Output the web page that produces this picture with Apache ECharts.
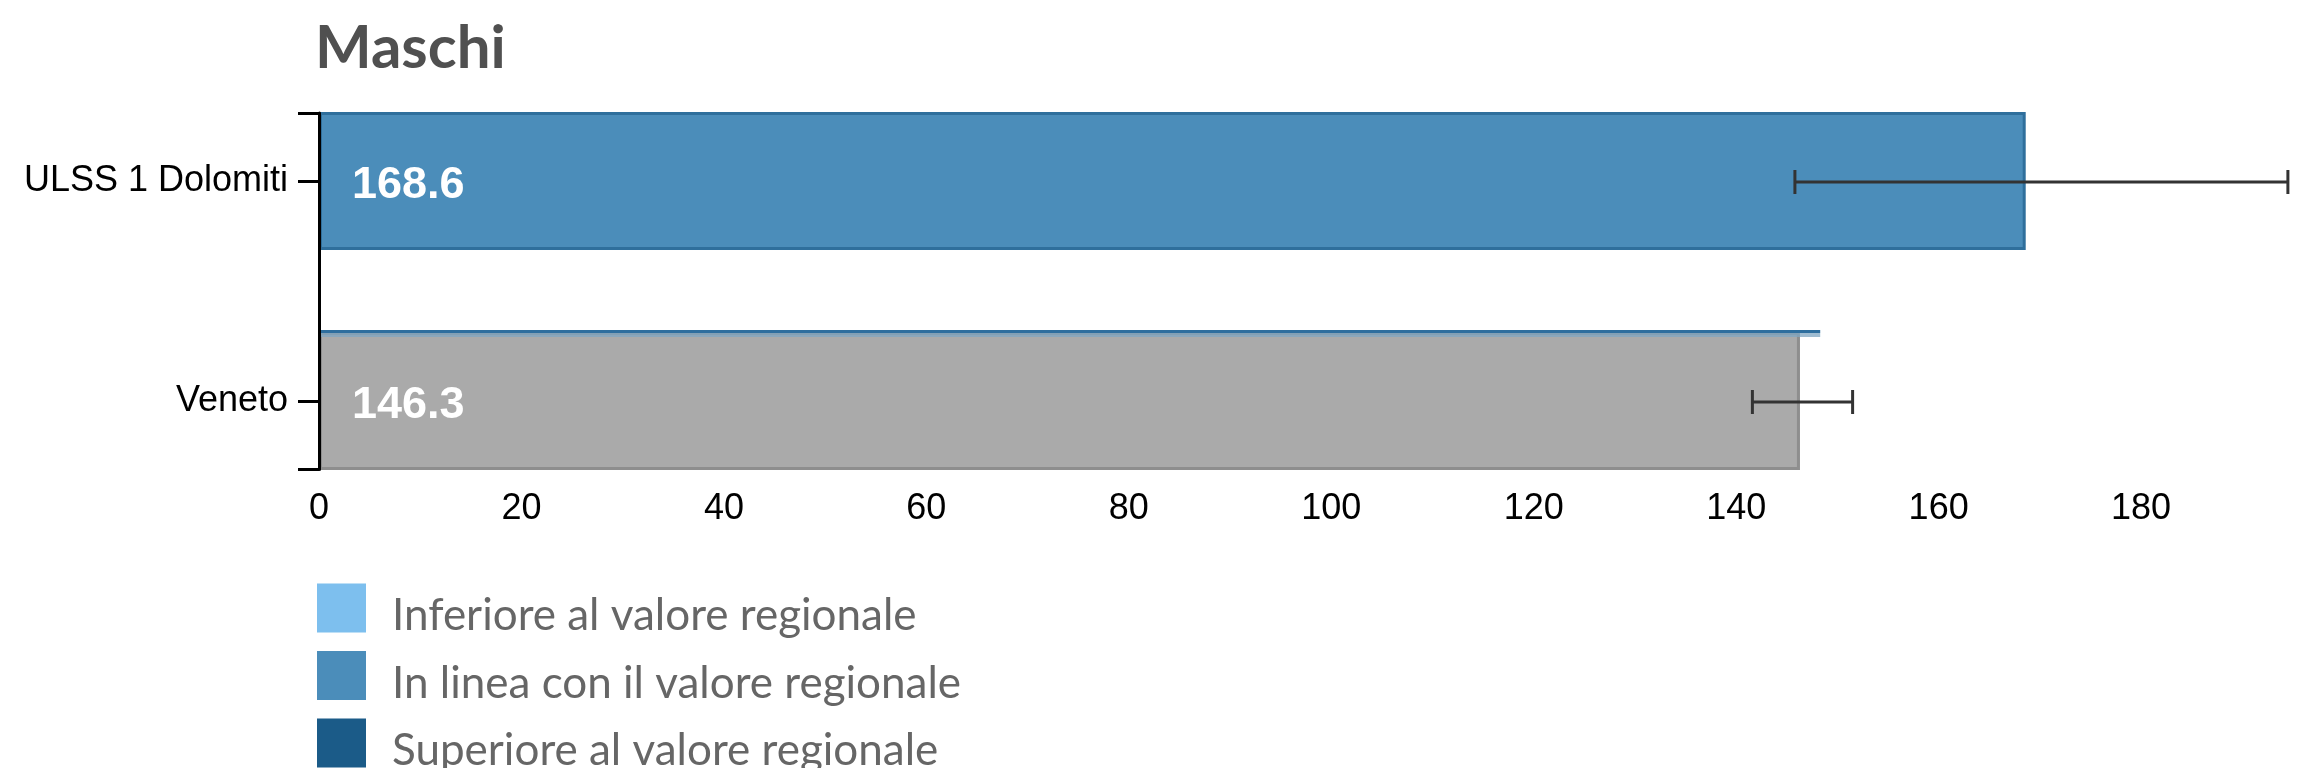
<!DOCTYPE html>
<html><head><meta charset="utf-8">
<script src="https://cdn.jsdelivr.net/npm/echarts@6/dist/echarts.min.js"></script>
<style>html,body{margin:0;padding:0;background:#fff}#c{width:2297px;height:768px}</style>
</head><body><div id="c"></div>
<script>
// ---- data ----
const titleText = 'Maschi';
const categories = ['ULSS 1 Dolomiti', 'Veneto'];
const rates = [168.6, 146.3];
const ciLower = [145.8, 141.6];
const ciUpper = [194.5, 151.5];
const rateClass = ['In linea con il valore regionale', 'Veneto'];
const overlayValues = ['-', 148.3];
const legendNames = ['Inferiore al valore regionale', 'In linea con il valore regionale', 'Superiore al valore regionale'];
const legendColors = ['#7dbfee', '#4b8dba', '#1b5b88'];
const legendBorders = ['#5c9fcf', '#2f6f9c', '#124368'];
const xMin = 0, xMax = 195.4, xStep = 20;

// ---- chart ----
const BAR_W = 138;
const chart = echarts.init(document.getElementById('c'));
const labelCfg = {
  show: true, position: 'insideLeft', distance: 33, offset: [0, 5],
  formatter: p => Number(p.value).toFixed(1),
  color: '#fff', fontSize: 45, fontWeight: 'bold', fontFamily: 'Liberation Sans'
};
const series = legendNames.map((name, k) => ({
  name, type: 'bar', stack: 'r', xAxisIndex: 0, yAxisIndex: 0, barWidth: BAR_W,
  data: categories.map((c, i) => rateClass[i] === name ? rates[i] : '-'),
  itemStyle: { color: legendColors[k], borderColor: legendBorders[k], borderWidth: 3 },
  label: labelCfg, z: 2
}));
series.push({
  name: 'Veneto', type: 'bar', stack: 'r', xAxisIndex: 0, yAxisIndex: 0, barWidth: BAR_W,
  data: categories.map((c, i) => rateClass[i] === 'Veneto' ? rates[i] : '-'),
  itemStyle: { color: '#aaaaaa', borderColor: '#8e8e8e', borderWidth: 3 },
  label: labelCfg, z: 2
});
series.push({
  name: 'overlay', type: 'custom', xAxisIndex: 0, yAxisIndex: 0, z: 3,
  data: categories.map((c, i) => [i, overlayValues[i]]).filter(d => d[1] !== '-'),
  encode: { y: 0, x: 1 },
  renderItem(params, api) {
    const idx = api.value(0), v = api.value(1);
    const p0 = api.coord([xMin, idx]), p1 = api.coord([v, idx]);
    const top = p0[1] - BAR_W / 2;
    const w = p1[0] - p0[0];
    return { type: 'group', children: [
      { type: 'rect', shape: { x: p0[0], y: top - 2, width: w, height: 3 }, style: { fill: '#2e6e9e' } },
      { type: 'rect', shape: { x: p0[0], y: top + 1, width: w, height: 4 }, style: { fill: '#7fa5c2', opacity: 0.75 } }
    ]};
  }
});
series.push({
  name: 'ci', type: 'custom', xAxisIndex: 0, yAxisIndex: 0, z: 4,
  data: categories.map((c, i) => [i, ciLower[i], ciUpper[i]]),
  encode: { y: 0, x: [1, 2] },
  renderItem(params, api) {
    const idx = api.value(0);
    const a = api.coord([api.value(1), idx]), b = api.coord([api.value(2), idx]);
    const y = a[1] + 1, h = 12;
    const st = { stroke: '#333', lineWidth: 3 };
    return { type: 'group', children: [
      { type: 'line', shape: { x1: a[0], y1: y, x2: b[0], y2: y }, style: st },
      { type: 'line', shape: { x1: a[0], y1: y - h, x2: a[0], y2: y + h }, style: st },
      { type: 'line', shape: { x1: b[0], y1: y - h, x2: b[0], y2: y + h }, style: st }
    ]};
  }
});

chart.setOption({
  animation: false,
  title: { text: titleText, left: 315, top: 19, padding: 0,
    textStyle: { fontFamily: 'Lato', fontSize: 60, fontWeight: 'bold', color: '#505050' } },
  legend: {
    data: legendNames.map(n => ({ name: n, icon: 'rect' })),
    orient: 'vertical', left: 317, top: 583.5, height: 320, padding: 0,
    itemWidth: 49, itemHeight: 49, itemGap: 13, selectedMode: false,
    itemStyle: { borderWidth: 0 },
    formatter: n => '{t|' + n + '}',
    textStyle: { fontFamily: 'Lato', fontSize: 44, color: '#666',
      rich: { t: { fontFamily: 'Lato', fontSize: 44, color: '#666', padding: [16, 0, 0, 21] } } }
  },
  grid: [
    { left: 319, right: 0, top: 71, height: 440 },
    { left: 319, right: 0, top: 113, height: 356.5 }
  ],
  xAxis: [
    { gridIndex: 0, type: 'value', min: xMin, max: xMax, show: false },
    { gridIndex: 1, type: 'value', min: xMin, max: xMax, interval: xStep, z: 10,
      axisLine: { lineStyle: { color: '#000', width: 3 } },
      axisTick: { length: 17, lineStyle: { color: '#000', width: 3 } },
      axisLabel: { fontSize: 36, margin: 22, color: '#000', fontFamily: 'Liberation Sans', showMaxLabel: false },
      splitLine: { show: false } }
  ],
  yAxis: [
    { gridIndex: 0, type: 'category', data: categories, inverse: true, z: 10,
      axisLine: { show: false },
      axisTick: { show: true, alignWithLabel: true, length: 21, lineStyle: { color: '#000', width: 3 } },
      axisLabel: { fontSize: 36, margin: 31, color: '#000', fontFamily: 'Liberation Sans' } },
    { gridIndex: 1, type: 'category', data: [''], boundaryGap: true, z: 10,
      axisLine: { show: true, lineStyle: { color: '#000', width: 3 } },
      axisTick: { show: true, length: 21, lineStyle: { color: '#000', width: 3 } },
      axisLabel: { show: false } }
  ],
  series
});
</script></body></html>
